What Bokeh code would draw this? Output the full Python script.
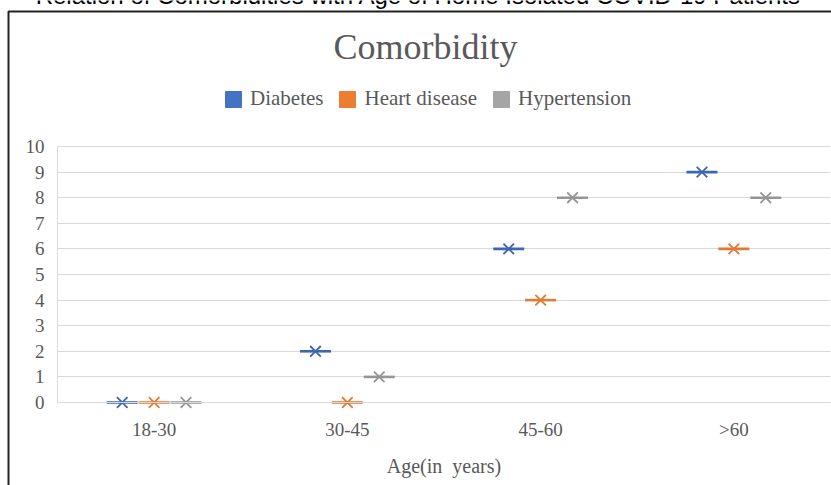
import numpy as np
from bokeh.plotting import figure
from bokeh.models import (Range1d, Legend, LegendItem, Label, BoxAnnotation, Grid,
                          ColumnDataSource, FixedTicker, LinearAxis)
from bokeh.transform import dodge
from bokeh.embed import file_html
from bokeh.resources import INLINE

# ---- data ----
categories = ["18-30", "30-45", "45-60", ">60"]
diabetes = [0, 2, 6, 9]
heart_disease = [0, 0, 4, 6]
hypertension = [0, 1, 8, 8]
series_names = ["Diabetes", "Heart disease", "Hypertension"]
y_ticks = list(range(0, 11))

SERIF = "Liberation Serif"
TXT = "#595959"
colors = ["#3E65B0", "#E07A34", "#959595"]
legend_colors = ["#4472C4", "#ED7D31", "#A5A5A5"]

# ---- layout constants (canvas pixels) ----
W, H = 831, 485
PL, PR, PT, PB = 57, 830, 146, 402      # plot area edges
ncat = len(categories)
xs = (PR - PL) / ncat                   # px per category
ys = (PB - PT) / 10.0                   # px per unit

x_range = Range1d(-PL / xs, (W - PL) / xs)
y_range = Range1d(-(H - PB) / ys, 10 + PT / ys)

p = figure(width=W, height=H, x_range=x_range, y_range=y_range,
           x_axis_location=None, y_axis_location=None,
           output_backend="svg", toolbar_location=None,
           min_border=0, min_border_left=0, min_border_right=0,
           min_border_top=0, min_border_bottom=0)
p.outline_line_color = None
p.background_fill_color = "white"
p.border_fill_color = "white"
p.xgrid.visible = False
p.ygrid.visible = False

xc = [i + 0.5 for i in range(ncat)]
src = ColumnDataSource(dict(x=xc, d=diabetes, h=heart_disease, t=hypertension))

# axes at fixed locations inside the canvas
yaxis = LinearAxis(fixed_location=0, bounds=(0, 10), ticker=FixedTicker(ticks=y_ticks))
xaxis = LinearAxis(fixed_location=0, bounds=(0, ncat), ticker=FixedTicker(ticks=xc),
                   major_label_overrides={v: c for v, c in zip(xc, categories)},
                   axis_label="Age(in\u00a0 years)")
for ax in (xaxis, yaxis):
    ax.major_label_text_font = SERIF
    ax.major_label_text_font_size = "19px"
    ax.major_label_text_color = TXT
    ax.major_tick_line_color = None
    ax.minor_tick_line_color = None
    ax.major_tick_out = 0
    ax.minor_tick_out = 0
    ax.axis_line_color = "#D9D9D9"
yaxis.major_label_standoff = 13
xaxis.major_label_standoff = 16
xaxis.axis_label_text_font = SERIF
xaxis.axis_label_text_font_size = "20px"
xaxis.axis_label_text_font_style = "normal"
xaxis.axis_label_text_color = TXT
xaxis.axis_label_standoff = 12
p.add_layout(yaxis, "left")
p.add_layout(xaxis, "below")

grid = Grid(dimension=1, ticker=yaxis.ticker, grid_line_color="#D9D9D9", grid_line_width=1)
try:
    grid.cross_bounds = (0, ncat)
    p.add_layout(grid)
except AttributeError:
    p.segment(x0=0, x1=ncat, y0=y_ticks[1:], y1=y_ticks[1:], line_color="#D9D9D9",
              line_width=1, level="underlay")

offs = [-0.165, 0.0, 0.165]
for col, off, c in zip(["d", "h", "t"], offs, colors):
    p.scatter(x=dodge("x", off), y=col, source=src, marker="dash",
              size=31, line_color=c, line_width=2.6)
    p.scatter(x=dodge("x", off), y=col, source=src, marker="x",
              size=15, line_color=c, line_width=1.8)

# legend proxies (no visible data)
items = []
for name, c in zip(series_names, legend_colors):
    r = p.quad(left=[np.nan], right=[np.nan], top=[np.nan], bottom=[np.nan],
               fill_color=c, line_color=c)
    items.append(LegendItem(label=name, renderers=[r]))
legend = Legend(items=items, orientation="horizontal", location=(223, H - 111),
                glyph_width=20, glyph_height=20, label_standoff=7, spacing=14,
                padding=0, margin=0, border_line_color=None, background_fill_alpha=0,
                label_text_font=SERIF, label_text_font_size="21px", label_text_color=TXT)
p.add_layout(legend, "center")

# titles (screen units from canvas bottom-left)
p.add_layout(Label(x=425, y=H - 46, x_units="screen", y_units="screen",
                   text="Comorbidity", text_font=SERIF, text_font_size="36px",
                   text_color=TXT, text_align="center", text_baseline="middle"))
p.add_layout(Label(x=418, y=H + 5, x_units="screen", y_units="screen",
                   text="Relation of Comorbidities with Age of Home Isolated COVID-19 Patients",
                   text_font="Liberation Sans", text_font_size="24px",
                   text_color="#000000", text_align="center", text_baseline="alphabetic"))

# outer chart border
p.add_layout(BoxAnnotation(left=8, right=W + 50, top=H - 11, bottom=-50,
                           left_units="screen", right_units="screen",
                           top_units="screen", bottom_units="screen",
                           fill_alpha=0, line_color="#222222", line_alpha=1, line_width=2))

open("out.html", "w").write(file_html(p, INLINE))
